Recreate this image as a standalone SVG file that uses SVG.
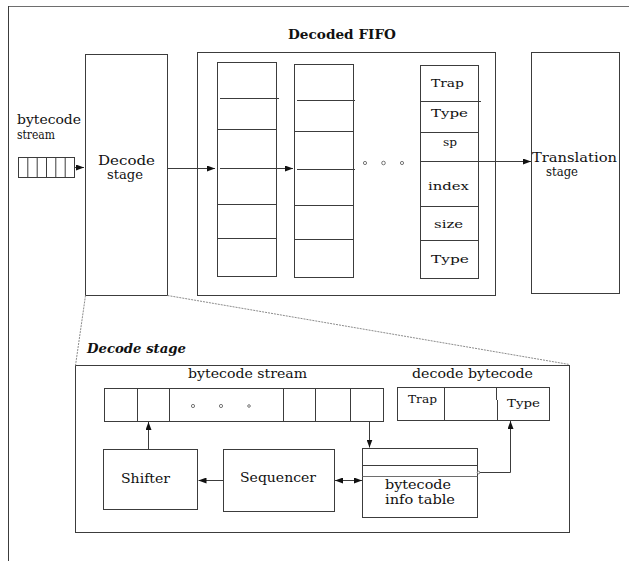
<svg xmlns="http://www.w3.org/2000/svg" width="629" height="561" viewBox="0 0 629 561">
  <style>
    .box { fill: #ffffff; stroke: #3c3c3c; stroke-width: 1; }
    .ln { fill: none; stroke: #3c3c3c; stroke-width: 1; }
    .lg { fill: none; stroke: #6e6e6e; stroke-width: 1; }
    .dash { fill: none; stroke: #8c8c8c; stroke-width: 1; stroke-dasharray: 2 1; }
    .arr { fill: none; stroke: #3c3c3c; stroke-width: 1; marker-end: url(#head); }
    .dot { fill: #ffffff; stroke: #555555; stroke-width: 0.8; }
    text { font-family: "DejaVu Serif", "Liberation Serif", serif; font-size: 12px; fill: #111111; }
    .sm { font-size: 11px; }
    .title { font-weight: bold; }
    .bi { font-weight: bold; font-style: italic; font-size: 13px; }
  </style>
  <defs>
    <marker id="head" viewBox="0 0 8 6" refX="8" refY="3" markerWidth="8" markerHeight="6" markerUnits="userSpaceOnUse" orient="auto">
      <path d="M0,0 L8,3 L0,6 Z" fill="#111111"/>
    </marker>
    <marker id="tail" viewBox="0 0 8 6" refX="0" refY="3" markerWidth="8" markerHeight="6" markerUnits="userSpaceOnUse" orient="auto">
      <path d="M8,0 L0,3 L8,6 Z" fill="#111111"/>
    </marker>
  </defs>

  <!-- page frame -->
  <g id="frame">
    <line class="lg" x1="8" y1="6.5" x2="629" y2="6.5"/>
    <line class="ln" x1="8.5" y1="6" x2="8.5" y2="561"/>
  </g>

  <!-- incoming byte stream -->
  <g id="input-stream">
    <text x="17" y="124" textLength="64" lengthAdjust="spacingAndGlyphs">bytecode</text>
    <text x="17" y="139" textLength="38" lengthAdjust="spacingAndGlyphs">stream</text>
    <rect class="box" x="18.5" y="157.5" width="56" height="20"/>
    <path class="ln" d="M27.8,157.5 V177.5 M37.2,157.5 V177.5 M46.5,157.5 V177.5 M55.8,157.5 V177.5 M65.2,157.5 V177.5"/>
  </g>

  <!-- decode stage -->
  <g id="decode-stage">
    <rect class="box" x="85.5" y="54.5" width="82" height="241"/>
    <text x="98" y="165" textLength="57" lengthAdjust="spacingAndGlyphs">Decode</text>
    <text x="107" y="179" textLength="36" lengthAdjust="spacingAndGlyphs">stage</text>
  </g>

  <!-- decoded FIFO -->
  <g id="decoded-fifo">
    <text class="title" x="288" y="39" textLength="108" lengthAdjust="spacingAndGlyphs">Decoded FIFO</text>
    <rect class="box" x="197.5" y="52.5" width="298" height="243"/>
    <!-- entry 1 -->
    <rect class="box" x="217.5" y="62.5" width="59" height="214"/>
    <path class="ln" d="M220,98.5 H279 M217.5,129.5 H276.5 M217.5,204.5 H276.5 M217.5,238.5 H276.5"/>
    <!-- entry 2 -->
    <rect class="box" x="294.5" y="64.5" width="59" height="213"/>
    <path class="ln" d="M297,100.5 H355 M294.5,131.5 H353.5 M297,169.5 H355 M294.5,205.5 H353.5 M294.5,239.5 H353.5"/>
    <!-- ellipsis -->
    <circle class="dot" cx="365" cy="163" r="1.6"/>
    <circle class="dot" cx="383.5" cy="163" r="1.8"/>
    <circle class="dot" cx="402" cy="163" r="1.6"/>
    <!-- last entry with fields -->
    <rect class="box" x="420.5" y="65.5" width="58" height="213"/>
    <path class="ln" d="M420.5,101.5 H481 M420.5,132.5 H478.5 M420.5,161.5 H478.5 M420.5,206.5 H478.5 M420.5,240.5 H478.5"/>
    <text class="sm" x="431" y="87" textLength="33" lengthAdjust="spacingAndGlyphs">Trap</text>
    <text class="sm" x="431" y="117" textLength="37" lengthAdjust="spacingAndGlyphs">Type</text>
    <text class="sm" x="443" y="146" textLength="14" lengthAdjust="spacingAndGlyphs">sp</text>
    <text class="sm" x="428" y="190" textLength="41" lengthAdjust="spacingAndGlyphs">index</text>
    <text class="sm" x="434" y="228" textLength="29" lengthAdjust="spacingAndGlyphs">size</text>
    <text class="sm" x="431" y="263" textLength="38" lengthAdjust="spacingAndGlyphs">Type</text>
  </g>

  <!-- translation stage -->
  <g id="translation-stage">
    <rect class="box" x="531.5" y="52.5" width="88" height="241"/>
    <text x="532" y="162" textLength="85" lengthAdjust="spacingAndGlyphs">Translation</text>
    <text x="546" y="176" textLength="32" lengthAdjust="spacingAndGlyphs">stage</text>
  </g>

  <!-- detail view of the decode stage -->
  <g id="decode-detail">
    <text class="bi" x="87" y="353" textLength="99" lengthAdjust="spacingAndGlyphs">Decode stage</text>
    <rect class="box" x="75.5" y="365.5" width="494" height="167"/>
  </g>

  <g id="stream-register">
    <text x="188" y="378" textLength="119" lengthAdjust="spacingAndGlyphs">bytecode stream</text>
    <rect class="box" x="104.5" y="388.5" width="279" height="33"/>
    <path class="ln" d="M137.5,388.5 V421.5 M169.5,388.5 V421.5 M283.5,388.5 V421.5 M315.5,388.5 V421.5 M350.5,388.5 V421.5"/>
    <circle class="dot" cx="193" cy="406" r="1.6"/>
    <circle class="dot" cx="221" cy="406" r="1.6"/>
    <circle class="dot" cx="249" cy="406" r="1.3"/>
  </g>

  <g id="decode-bytecode">
    <text x="412" y="378" textLength="121" lengthAdjust="spacingAndGlyphs">decode bytecode</text>
    <rect class="box" x="397.5" y="387.5" width="152" height="33"/>
    <path class="ln" d="M444.5,387.5 V420.5 M496.5,387.5 V400 M497.5,400 V420.5"/>
    <text class="sm" x="408" y="403" textLength="29" lengthAdjust="spacingAndGlyphs">Trap</text>
    <text class="sm" x="507" y="407" textLength="33" lengthAdjust="spacingAndGlyphs">Type</text>
  </g>

  <g id="info-table">
    <rect class="box" x="362.5" y="448.5" width="115" height="69"/>
    <path class="ln" d="M362.5,465.5 H477.5"/>
    <path class="lg" d="M362.5,476.5 H477.5"/>
    <text x="385" y="489" textLength="66" lengthAdjust="spacingAndGlyphs">bytecode</text>
    <text x="385" y="504" textLength="70" lengthAdjust="spacingAndGlyphs">info table</text>
  </g>

  <g id="sequencer">
    <rect class="box" x="223.5" y="449.5" width="111" height="62"/>
    <text x="240" y="482" textLength="76" lengthAdjust="spacingAndGlyphs">Sequencer</text>
  </g>

  <g id="shifter">
    <rect class="box" x="103.5" y="449.5" width="94" height="60"/>
    <text x="121" y="483" textLength="49" lengthAdjust="spacingAndGlyphs">Shifter</text>
  </g>

  <!-- connectors -->
  <g id="connectors">
    <line class="arr" x1="74.5" y1="167.5" x2="84" y2="167.5"/>
    <line class="arr" x1="167.5" y1="168.5" x2="215" y2="168.5"/>
    <line class="arr" x1="220" y1="168.5" x2="293" y2="168.5"/>
    <line class="arr" x1="478.5" y1="161.5" x2="531" y2="161.5"/>
    <line class="dash" x1="85.5" y1="295.5" x2="75.5" y2="365.5"/>
    <line class="dash" x1="167.5" y1="295.5" x2="569.5" y2="364.5"/>
    <line class="arr" x1="369.5" y1="421.5" x2="369.5" y2="447.5"/>
    <polyline class="arr" points="479,472.5 510.5,472.5 510.5,421"/>
    <circle class="dot" cx="478.5" cy="472.5" r="1.3"/>
    <line class="arr" x1="223.5" y1="480.5" x2="198.5" y2="480.5"/>
    <line class="arr" x1="148.5" y1="449.5" x2="148.5" y2="422"/>
    <line class="arr" x1="335" y1="480.5" x2="362" y2="480.5" marker-start="url(#tail)"/>
  </g>
</svg>
